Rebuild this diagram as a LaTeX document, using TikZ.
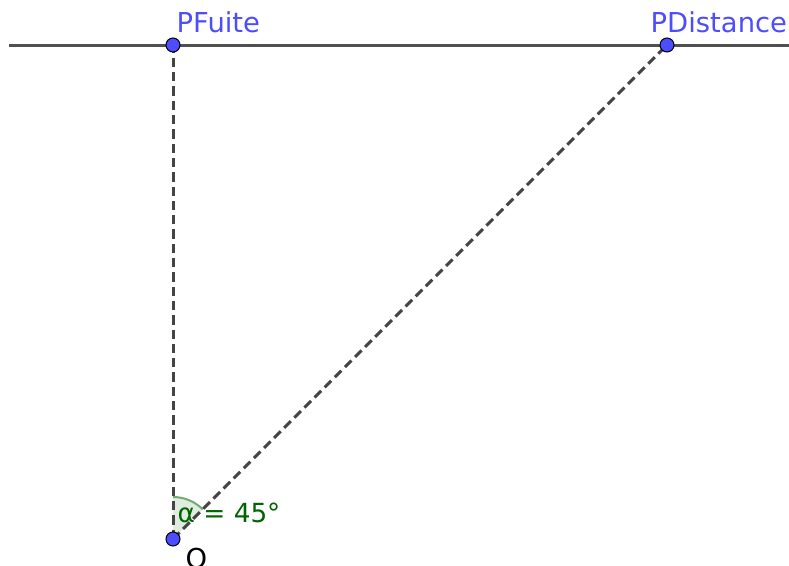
\documentclass[tikz,border=0pt]{standalone}
\usepackage{fontspec}
\setmainfont{DejaVu Sans}
\definecolor{ptblue}{RGB}{77,77,255}
\definecolor{lineg}{RGB}{80,80,80}
\definecolor{dashg}{RGB}{68,68,68}
\definecolor{anggreen}{RGB}{0,100,0}
\begin{document}
\begin{tikzpicture}[x=1pt,y=-1pt,
  pt/.style={circle,fill=ptblue,draw=black,line width=1pt,inner sep=0pt,minimum size=14pt},
  lbl/.style={anchor=base west,inner sep=0pt,font=\fontsize{27.4}{30}\selectfont},
  dashline/.style={draw=dashg,line width=3pt,dash pattern=on 9.3pt off 5pt}]
\useasboundingbox (0,0) rectangle (789,565);
\coordinate (L) at (9,45);
\coordinate (R) at (789,45);
\draw[lineg,line width=3pt] (L) -- (R);
\coordinate (O) at (173,539);
\coordinate (F) at (173,45);
\coordinate (D) at (667,45);
% angle sector
\fill[anggreen,opacity=0.12] (O) -- ++(0,-42) arc[start angle=-90,end angle=-45,radius=42] -- cycle;
\draw[anggreen!55,line width=2pt] (O) ++(0,-42) arc[start angle=-90,end angle=-45,radius=42];
\draw[dashline] (O) -- (F);
\draw[dashline] (O) -- (D);
\node[pt] (pO) at (O) {};
\node[pt] (pF) at (F) {};
\node[pt] (pD) at (D) {};
\node[lbl,text=ptblue] (tF) at (176.5,32) {PFuite};
\node[lbl,text=ptblue] (tD) at (650.5,32) {PDistance};
\node[lbl,text=anggreen,font=\fontsize{26.3}{30}\selectfont] (tA) at (177.5,522) {α = 45°};
\node[lbl,text=black] (tO) at (185.5,568) {O};
\end{tikzpicture}
\end{document}
